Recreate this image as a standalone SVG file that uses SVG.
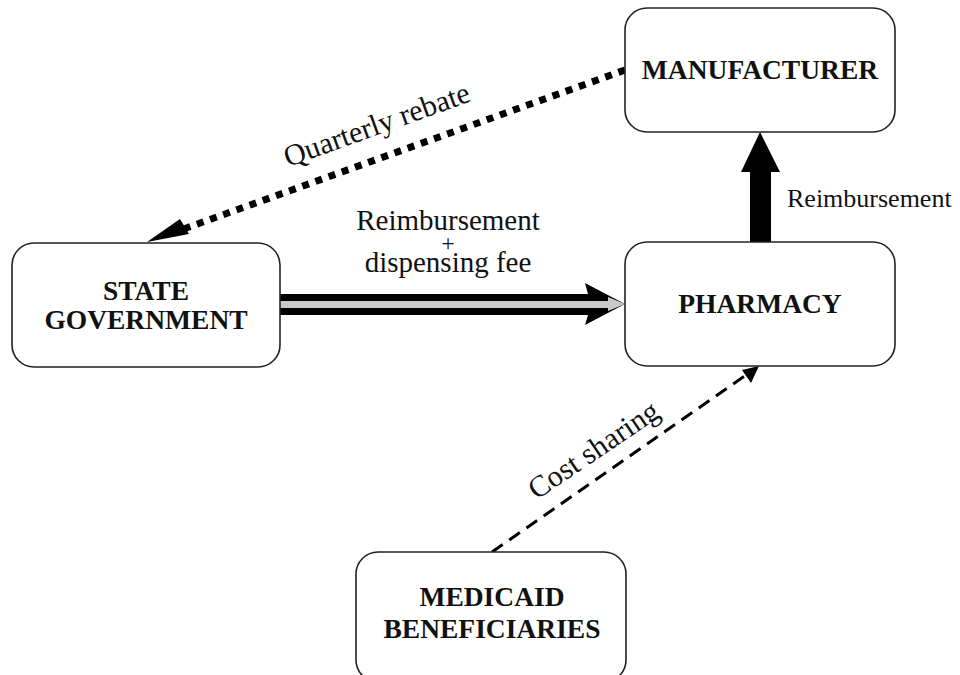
<svg xmlns="http://www.w3.org/2000/svg" width="960" height="675" viewBox="0 0 960 675">
<style>
.box{fill:#fff;stroke:#222;stroke-width:1.6}
.nt{font-family:"Liberation Serif","Times New Roman",serif;font-weight:bold;font-size:27.5px;fill:#111;text-anchor:middle}
.lb{font-family:"Liberation Serif","Times New Roman",serif;font-size:29px;fill:#111}
</style>
<rect width="960" height="675" fill="#fff"/>
<g id="connectors">
  <g id="quarterly-rebate">
    <line x1="625" y1="70" x2="178" y2="231" stroke="#000" stroke-width="7" stroke-dasharray="7 7"/>
    <polygon points="147,242 180,219 189,234" fill="#000"/>
    <text class="lb" x="380" y="134" text-anchor="middle" style="font-size:30px" transform="rotate(-19.8 380 134)">Quarterly rebate</text>
  </g>
  <g id="reimb-dispensing">
    <polygon points="280,294 588,294 585,283 625,304 585,325 588,315 280,315" fill="#000"/>
    <polygon points="280,301 608,301 608,297 625,304 608,311 608,308 280,308" fill="#c8c8c8"/>
    <text class="lb" x="448" y="230" text-anchor="middle">Reimbursement</text>
    <text class="lb" x="448" y="251" text-anchor="middle" style="font-size:24px">+</text>
    <text class="lb" x="448" y="272" text-anchor="middle">dispensing fee</text>
  </g>
  <g id="reimb-up">
    <polygon points="750,242 750,172 741,172 760,132 780,172 771,172 771,242" fill="#000"/>
    <text class="lb" x="787" y="207" style="font-size:26px">Reimbursement</text>
  </g>
  <g id="cost-sharing">
    <line x1="492" y1="552" x2="746" y2="375" stroke="#000" stroke-width="3" stroke-dasharray="13 8"/>
    <polygon points="759,366 742,370 751,383" fill="#000"/>
    <text class="lb" x="599" y="458" text-anchor="middle" style="font-size:30px" transform="rotate(-34 599 458)">Cost sharing</text>
  </g>
</g>
<g id="manufacturer">
  <rect class="box" x="625" y="8" width="270" height="124" rx="22"/>
  <text class="nt" x="760" y="79">MANUFACTURER</text>
</g>
<g id="state-government">
  <rect class="box" x="12" y="243" width="268" height="124" rx="22"/>
  <text class="nt" x="146" y="300">STATE</text>
  <text class="nt" x="146" y="329">GOVERNMENT</text>
</g>
<g id="pharmacy">
  <rect class="box" x="625" y="242" width="270" height="124" rx="22"/>
  <text class="nt" x="760" y="313">PHARMACY</text>
</g>
<g id="medicaid-beneficiaries">
  <rect class="box" x="356" y="552" width="270" height="130" rx="22"/>
  <text class="nt" x="492" y="606">MEDICAID</text>
  <text class="nt" x="492" y="638">BENEFICIARIES</text>
</g>
</svg>
